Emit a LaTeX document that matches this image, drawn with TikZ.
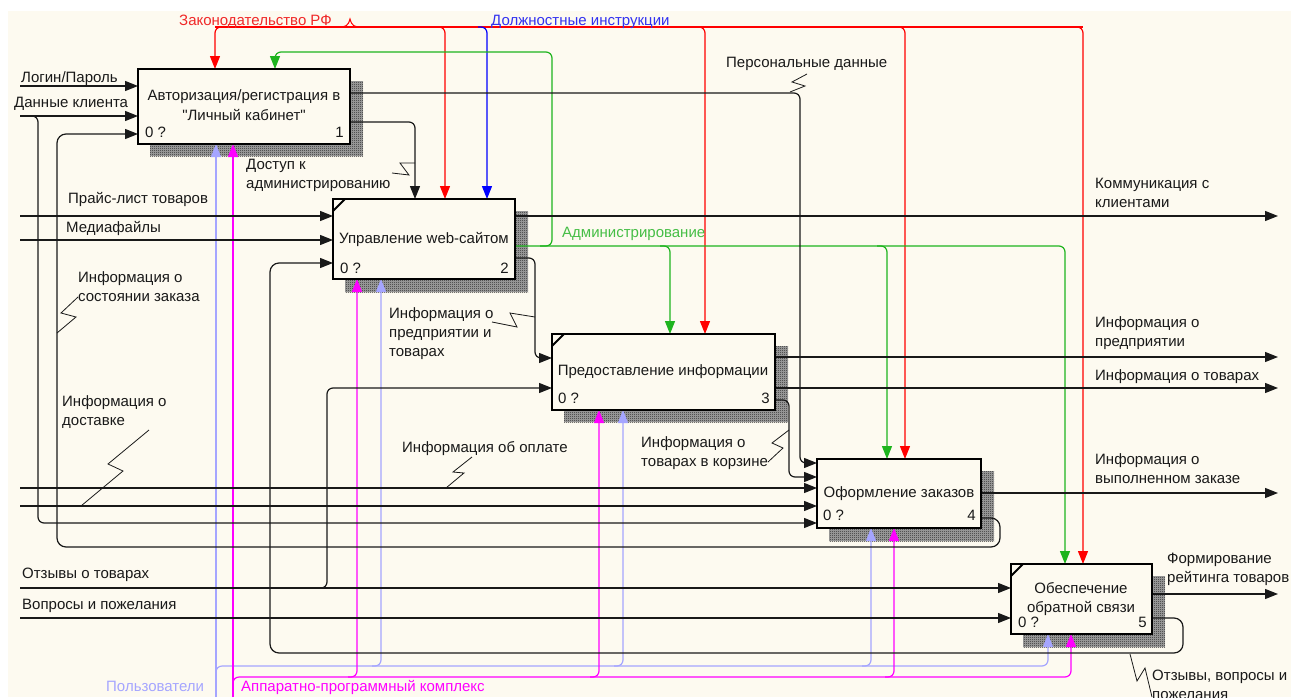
\documentclass[tikz,border=0pt]{standalone}
\usepackage{fontspec}
\setmainfont{Liberation Sans}[Ligatures=TeXOff]
\usetikzlibrary{arrows.meta,patterns}

\definecolor{paper}{RGB}{253,250,240}
\definecolor{ink}{RGB}{25,25,25}
\definecolor{lawred}{RGB}{255,0,0}
\definecolor{lawtxt}{RGB}{240,40,40}
\definecolor{dutyblue}{RGB}{0,0,255}
\definecolor{dutytxt}{RGB}{50,50,240}
\definecolor{admgreen}{RGB}{30,180,30}
\definecolor{admtxt}{RGB}{70,190,70}
\definecolor{usrlav}{RGB}{165,165,255}
\definecolor{hwmag}{RGB}{255,0,255}

% fine checker used for the box shadows
\pgfdeclarepatternformonly{shadowdots}{\pgfpointorigin}{\pgfpoint{2pt}{2pt}}{\pgfpoint{2pt}{2pt}}{%
  \pgfpathrectangle{\pgfpointorigin}{\pgfpoint{1pt}{1pt}}%
  \pgfpathrectangle{\pgfpoint{1pt}{1pt}}{\pgfpoint{1pt}{1pt}}%
  \pgfusepath{fill}}

\tikzset{
  fn/.style={font=\fontsize{15}{18}\selectfont},
  box/.style={draw=black, line width=2.4pt, fill=paper, inner sep=0pt, outer sep=0pt, anchor=north west},
  shade/.style={fill=black!35, postaction={pattern=shadowdots, pattern color=black!85}},
  flow/.style={line width=1.2pt, rounded corners=6pt, draw=#1, -{Triangle[length=13pt,width=10pt]}},
  flow/.default=ink,
  bare/.style={line width=1.2pt, rounded corners=6pt, draw=#1},
  bare/.default=ink,
  zig/.style={draw=ink, line width=0.8pt},
  corner/.style={draw=black, line width=2pt},
  lbl/.style={fn, text=#1, inner sep=0pt, anchor=base west},
  lbl/.default=ink,
  btxt/.style={fn, text=ink, inner sep=0pt, anchor=base},
  num/.style={fn, text=ink, inner sep=0pt, anchor=base east},
  zero/.style={fn, text=ink, inner sep=0pt, anchor=base west},
}

\begin{document}
\begin{tikzpicture}[x=1pt,y=-1pt]
\useasboundingbox (0,0) rectangle (1291,697);
\fill[white] (0,0) rectangle (1291,697);
\fill[paper] (8,11) rectangle (1291,697);

% shadows behind the activity boxes
\path[shade] (150,81) rectangle (363,156);
\path[shade] (345,211) rectangle (528,292);
\path[shade] (564,346) rectangle (788,422);
\path[shade] (829,471) rectangle (994,541);
\path[shade] (1023,576) rectangle (1165,647);

% activity boxes
\node[box, minimum width=212pt, minimum height=75pt] (b1) at (138,69) {};
\node[box, minimum width=182pt, minimum height=80pt] (b2) at (333,199) {};
\node[box, minimum width=223pt, minimum height=76pt] (b3) at (552,334) {};
\node[box, minimum width=164pt, minimum height=69pt] (b4) at (817,459) {};
\node[box, minimum width=141pt, minimum height=70pt] (b5) at (1011,564) {};

% ---- controls: legislation (red) ----
\draw[bare=lawred] (215,27) -- (1083,27);
\draw[flow=lawred] (260,27) -- (215,27) -- (215,0 |- b1.north);
\draw[flow=lawred] (1000,27) -- (1083,27) -- (1083,0 |- b5.north);
\draw[flow=lawred] (436,27) -- (445,27) -- (445,0 |- b2.north);
\draw[flow=lawred] (696,27) -- (705,27) -- (705,0 |- b3.north);
\draw[flow=lawred] (896,27) -- (905,27) -- (905,0 |- b4.north);
\draw[lawred, line width=1pt] (338,27) .. controls (346,27) and (348,26) .. (350,19)
  .. controls (352,26) and (354,27) .. (362,27);
% ---- controls: job instructions (blue) ----
\draw[flow=dutyblue] (478,27) -- (487,27) -- (487,0 |- b2.north);

% ---- administration (green), output of box 2 ----
\draw[flow=admgreen] (b2.east |- 0,246) -- (1065,246) -- (1065,0 |- b5.north);
\draw[flow=admgreen] (540,246) -- (552,246) -- (552,52) -- (275,52) -- (275,0 |- b1.north);
\draw[flow=admgreen] (660,246) -- (670,246) -- (670,0 |- b3.north);
\draw[flow=admgreen] (877,246) -- (887,246) -- (887,0 |- b4.north);

% ---- mechanisms: users (lavender) ----
\draw[flow=usrlav] (216,697) -- (216,0 |- b1.south);
\draw[flow=usrlav] (216,690) -- (216,666) -- (1048,666) -- (1048,0 |- b5.south);
\draw[flow=usrlav] (372,666) -- (381,666) -- (381,0 |- b2.south);
\draw[flow=usrlav] (614,666) -- (623,666) -- (623,0 |- b3.south);
\draw[flow=usrlav] (862,666) -- (871,666) -- (871,0 |- b4.south);
% ---- mechanisms: hardware/software (magenta) ----
\draw[flow=hwmag] (233,697) -- (233,0 |- b1.south);
\draw[flow=hwmag] (233,690) -- (233,677) -- (1071,677) -- (1071,0 |- b5.south);
\draw[flow=hwmag] (348,677) -- (357,677) -- (357,0 |- b2.south);
\draw[flow=hwmag] (590,677) -- (599,677) -- (599,0 |- b3.south);
\draw[flow=hwmag] (885,677) -- (894,677) -- (894,0 |- b4.south);

% ---- inputs, outputs and feedback (black) ----
\draw[flow] (20,86) -- (b1.west |- 0,86);
\draw[flow] (20,116) -- (b1.west |- 0,116);
\draw[flow] (28,116) -- (38,116) -- (38,523) -- (b4.west |- 0,523);
\draw[flow, rounded corners=9pt] (b4.east |- 0,518) -- (1000,518) -- (1000,547) -- (57,547) -- (57,134) -- (b1.west |- 0,134);
\draw[flow] (b1.east |- 0,93) -- (800,93) -- (800,463) -- (b4.west |- 0,463);
\draw[flow] (b1.east |- 0,122) -- (415,122) -- (415,0 |- b2.north);
\draw[flow] (20,216) -- (b2.west |- 0,216);
\draw[flow] (20,240) -- (b2.west |- 0,240);
\draw[flow, rounded corners=9pt] (b5.east |- 0,618) -- (1183,618) -- (1183,653) -- (270,653) -- (270,263) -- (b2.west |- 0,263);
\draw[flow] (b2.east |- 0,216) -- (1278,216);
\draw[flow] (b2.east |- 0,258) -- (535,258) -- (535,358) -- (b3.west |- 0,358);
\draw[flow] (312,588) -- (327,588) -- (327,388) -- (b3.west |- 0,388);
\draw[flow] (b3.east |- 0,357) -- (1278,357);
\draw[flow] (b3.east |- 0,388) -- (1278,388);
\draw[flow] (b3.east |- 0,400) -- (789,400) -- (789,477) -- (b4.west |- 0,477);
\draw[flow] (20,488) -- (b4.west |- 0,488);
\draw[flow] (20,506) -- (b4.west |- 0,506);
\draw[flow] (b4.east |- 0,493) -- (1278,493);
\draw[flow] (20,588) -- (b5.west |- 0,588);
\draw[flow] (20,618) -- (b5.west |- 0,618);
\draw[flow] (b5.east |- 0,594) -- (1278,594);

% boxes again on top of the arrow ends
\node[box, minimum width=212pt, minimum height=75pt] (b1f) at (138,69) {};
\node[box, minimum width=182pt, minimum height=80pt] (b2f) at (333,199) {};
\node[box, minimum width=223pt, minimum height=76pt] (b3f) at (552,334) {};
\node[box, minimum width=164pt, minimum height=69pt] (b4f) at (817,459) {};
\node[box, minimum width=141pt, minimum height=70pt] (b5f) at (1011,564) {};
\draw[corner] (333,211) -- (345,199);
\draw[corner] (552,346) -- (564,334);
\draw[corner] (1011,576) -- (1023,564);

% box texts
\node[btxt] (t1a) at (244,100) {Авторизация/регистрация в};
\node[btxt] (t1b) at (244,120) {"Личный кабинет"};
\node[btxt] (t2) at (424,243) {Управление web-сайтом};
\node[btxt] (t3) at (663,375) {Предоставление информации};
\node[btxt] (t4) at (899,497) {Оформление заказов};
\node[btxt] (t5a) at (1081,593) {Обеспечение};
\node[btxt] (t5b) at (1081,612) {обратной связи};
\node[zero] (z1) at (145,137) {0 ?};
\node[num] (n1) at (344,137) {1};
\node[zero] (z2) at (340,273) {0 ?};
\node[num] (n2) at (509,273) {2};
\node[zero] (z3) at (558,403) {0 ?};
\node[num] (n3) at (770,403) {3};
\node[zero] (z4) at (823,520) {0 ?};
\node[num] (n4) at (976,520) {4};
\node[zero] (z5) at (1018,627) {0 ?};
\node[num] (n5) at (1147,627) {5};

% label leaders
\draw[zig] (807,74) -- (792,82) -- (805,86) -- (790,92);
\draw[zig] (392,173) -- (409,175) -- (400,163) -- (415,163);
\draw[zig] (78,297) -- (61,313) -- (76,317) -- (57,333);
\draw[zig] (149,430) -- (108,464) -- (123,471) -- (81,506);
\draw[zig] (472,457) -- (453,472) -- (464,473) -- (446,488);
\draw[zig] (492,322) -- (517,327) -- (510,313) -- (535,317);
\draw[zig] (768,462) -- (783,448) -- (772,443) -- (789,430);
\draw[zig] (1130,654) -- (1137,681) -- (1145,668) -- (1152,697);

% arrow labels
\node[lbl=lawtxt] (lz) at (179,25) {Законодательство РФ};
\node[lbl=dutytxt] (ld) at (491,25) {Должностные инструкции};
\node[lbl] (ll) at (21,82) {Логин/Пароль};
\node[lbl] (lk) at (14,107) {Данные клиента};
\node[lbl] (lp) at (726,67) {Персональные данные};
\node[lbl] (la1) at (246,169) {Доступ к};
\node[lbl] (la2) at (246,188) {администрированию};
\node[lbl] (lr) at (68,203) {Прайс-лист товаров};
\node[lbl] (lm) at (66,232) {Медиафайлы};
\node[lbl] (ls1) at (78,282) {Информация о};
\node[lbl] (ls2) at (78,301) {состоянии заказа};
\node[lbl] (lq1) at (62,406) {Информация о};
\node[lbl] (lq2) at (62,425) {доставке};
\node[lbl] (le1) at (389,318) {Информация о};
\node[lbl] (le2) at (389,337) {предприятии и};
\node[lbl] (le3) at (389,356) {товарах};
\node[lbl=admtxt] (lad) at (562,237) {Администрирование};
\node[lbl] (lc1) at (641,447) {Информация о};
\node[lbl] (lc2) at (641,466) {товарах в корзине};
\node[lbl] (lo) at (402,452) {Информация об оплате};
\node[lbl] (lkk1) at (1095,188) {Коммуникация с};
\node[lbl] (lkk2) at (1095,207) {клиентами};
\node[lbl] (lip1) at (1095,327) {Информация о};
\node[lbl] (lip2) at (1095,346) {предприятии};
\node[lbl] (lit) at (1095,380) {Информация о товарах};
\node[lbl] (lv1) at (1095,464) {Информация о};
\node[lbl] (lv2) at (1095,483) {выполненном заказе};
\node[lbl] (lf1) at (1167,563) {Формирование};
\node[lbl] (lf2) at (1167,582) {рейтинга товаров};
\node[lbl] (lw1) at (1152,680) {Отзывы, вопросы и};
\node[lbl] (lw2) at (1152,699) {пожелания};
\node[lbl] (lot) at (22,578) {Отзывы о товарах};
\node[lbl] (lvp) at (22,609) {Вопросы и пожелания};
\node[lbl=usrlav] (lu) at (106,691) {Пользователи};
\node[lbl=hwmag] (lh) at (241,691) {Аппаратно-программный комплекс};
\end{tikzpicture}
\end{document}
